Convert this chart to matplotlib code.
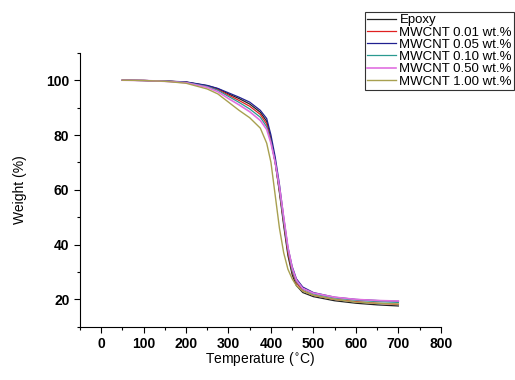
import matplotlib
matplotlib.use("Agg")
import matplotlib.pyplot as plt
from matplotlib.ticker import MultipleLocator

plt.rcParams['font.family'] = ['Liberation Sans', 'DejaVu Sans']

temperature = [50, 100, 150, 200, 250, 275, 300, 325, 350, 375, 390, 400, 410, 420, 430,
               440, 450, 460, 475, 500, 550, 600, 650, 700]

epoxy    = [100, 99.9, 99.7, 99.3, 98.0, 96.9, 95.0, 93.3, 91.3, 88.3, 85.0, 78.5, 70.0, 59.0, 47.0,
            36.0, 29.0, 25.0, 22.5, 21.0, 19.5, 18.6, 18.0, 17.6]
mw_001   = [100, 99.9, 99.7, 99.3, 97.9, 96.6, 94.6, 92.6, 90.5, 87.5, 84.0, 78.0, 70.0, 59.5, 48.0,
            37.0, 30.0, 26.0, 23.2, 21.5, 20.0, 19.2, 18.6, 18.2]
mw_005   = [100, 99.9, 99.7, 99.4, 98.1, 97.0, 95.4, 93.8, 92.0, 89.0, 86.0, 80.0, 72.0, 62.0, 50.0,
            39.0, 32.0, 27.5, 24.5, 22.5, 20.8, 20.0, 19.6, 19.3]
mw_010   = [100, 99.9, 99.7, 99.2, 97.7, 96.3, 94.1, 91.9, 89.5, 86.5, 83.0, 77.5, 70.0, 60.0, 48.5,
            38.0, 30.5, 26.5, 23.8, 22.0, 20.5, 19.7, 19.2, 18.9]
mw_050   = [100, 99.9, 99.6, 99.1, 97.4, 95.8, 93.3, 91.0, 88.5, 85.3, 82.0, 77.0, 70.0, 61.0, 50.0,
            39.0, 31.5, 27.0, 24.0, 22.3, 20.8, 20.0, 19.6, 19.4]
mw_100   = [100, 99.9, 99.6, 98.9, 96.8, 95.0, 92.0, 89.0, 86.3, 82.5, 77.0, 70.0, 58.0, 46.0, 37.0,
            31.0, 27.5, 25.0, 23.0, 21.5, 20.0, 19.0, 18.6, 18.3]

series = [epoxy, mw_001, mw_005, mw_010, mw_050, mw_100]
labels = ["Epoxy", "MWCNT 0.01 wt.%", "MWCNT 0.05 wt.%", "MWCNT 0.10 wt.%",
          "MWCNT 0.50 wt.%", "MWCNT 1.00 wt.%"]
colors = ["#222222", "#e02020", "#202090", "#2a9a90", "#e070e0", "#a8a050"]
widths = [0.9, 0.9, 0.9, 0.9, 1.2, 1.0]

fig = plt.figure(figsize=(5.15, 3.8), dpi=100)
ax = fig.add_axes([0.155, 0.140, 0.701, 0.721])

for y, lab, c, w in zip(series, labels, colors, widths):
    ax.plot(temperature, y, color=c, lw=w, label=lab)

ax.set_xlim(-50, 800)
ax.set_ylim(10, 110)
ax.xaxis.set_major_locator(MultipleLocator(100))
ax.xaxis.set_minor_locator(MultipleLocator(50))
ax.set_yticks([20, 40, 60, 80, 100])
ax.yaxis.set_minor_locator(MultipleLocator(10))
ax.spines['top'].set_visible(False)
ax.spines['right'].set_visible(False)
for s in ['left', 'bottom']:
    ax.spines[s].set_linewidth(0.8)
ax.tick_params(which='major', direction='out', length=4, width=0.8, labelsize=10)
ax.tick_params(which='minor', direction='out', length=2.5, width=0.8)
for t in ax.get_xticklabels() + ax.get_yticklabels():
    t.set_fontweight('bold')

ax.set_xlabel("Temperature ($^{\\circ}$C)", fontsize=10, labelpad=-1)
ax.set_ylabel("Weight (%)", fontsize=10, labelpad=14)

leg = ax.legend(loc='upper left', bbox_to_anchor=(0.709, 0.968), bbox_transform=fig.transFigure,
                borderaxespad=0, fancybox=False, edgecolor='#333333', fontsize=9.5,
                handlelength=2.2, handletextpad=0.25, labelspacing=0.0, borderpad=0.15,
                framealpha=1)
leg.get_frame().set_linewidth(0.8)

fig.savefig("out.png", dpi=100)
